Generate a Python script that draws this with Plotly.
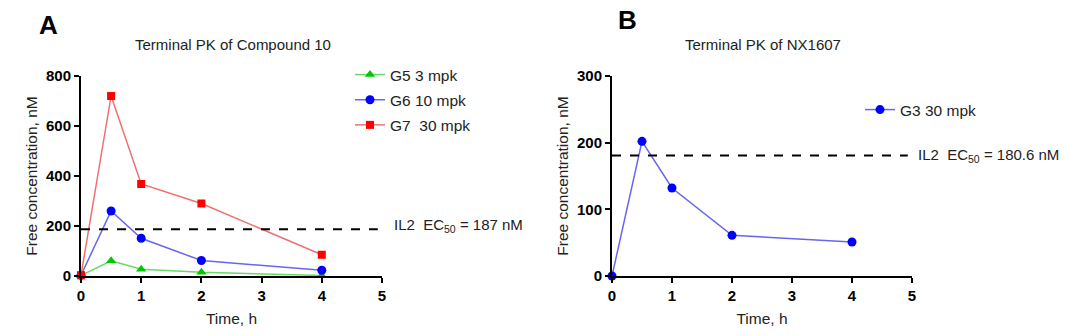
import plotly.graph_objects as go

# ---- data ----
time_a = [0, 0.5, 1, 2, 4]
g5_3mpk = [2, 61, 27, 15, 2]
g6_10mpk = [3, 260, 151, 62, 23]
g7_30mpk = [3, 720, 368, 290, 85]
ec50_a = 187

time_b = [0, 0.5, 1, 2, 4]
g3_30mpk = [0, 202, 132, 61, 51]
ec50_b = 180.6

x_ticks = [0, 1, 2, 3, 4, 5]
y_ticks_a = [0, 200, 400, 600, 800]
y_ticks_b = [0, 100, 200, 300]

W, H = 1080, 336
def px_x(p): return p / W
def px_y(p): return (H - p) / H

FONT = "Liberation Sans, Arial, sans-serif"
TXT = "#222222"

fig = go.Figure()

def add_series(x, y, name, mcol, lcol, symbol, size, xa, ya, legend):
    fig.add_trace(go.Scatter(
        x=x, y=y, name=name, mode="lines+markers",
        line=dict(color=lcol, width=1.5),
        marker=dict(color=mcol, symbol=symbol, size=size, line=dict(width=0)),
        xaxis=xa, yaxis=ya, legend=legend, legendgroup=name, cliponaxis=False))

add_series(time_a, g5_3mpk, "G5 3 mpk", "#00c800", "#66d966", "triangle-up", 9, "x", "y", "legend")
add_series(time_a, g6_10mpk, "G6 10 mpk", "#0000ff", "#6666ee", "circle", 9, "x", "y", "legend")
add_series(time_a, g7_30mpk, "G7  30 mpk", "#ff0000", "#f07070", "square", 8, "x", "y", "legend")
add_series(time_b, g3_30mpk, "G3 30 mpk", "#0000ff", "#6666ee", "circle", 9, "x2", "y2", "legend2")

# EC50 dashed lines
fig.add_shape(type="line", xref="x", yref="y", x0=0, x1=4.93, y0=ec50_a, y1=ec50_a,
              line=dict(color="black", width=2, dash="dash"))
fig.add_shape(type="line", xref="x2", yref="y2", x0=0, x1=4.93, y0=ec50_b, y1=ec50_b,
              line=dict(color="black", width=2, dash="dash"))

axis_common = dict(showline=True, linecolor="black", linewidth=2, ticks="outside",
                   tickwidth=2, ticklen=5, tickcolor="black", showgrid=False, zeroline=False,
                   automargin=False,
                   tickfont=dict(family=FONT, size=15, color="black", weight="bold"),
                   title_font=dict(family=FONT, size=15.5, color=TXT))

fig.update_layout(
    width=W, height=H, margin=dict(l=0, r=0, t=0, b=0, autoexpand=False),
    paper_bgcolor="white", plot_bgcolor="white",
    font=dict(family=FONT, color=TXT),
    xaxis=dict(domain=[px_x(81), px_x(382)], range=[0, 5], tickvals=x_ticks,
               anchor="y", title=dict(text="Time, h", standoff=10), **axis_common),
    yaxis=dict(domain=[px_y(276), px_y(76)], range=[0, 800], tickvals=y_ticks_a,
               anchor="x", title=dict(text="Free concentration, nM", standoff=5), **axis_common),
    xaxis2=dict(domain=[px_x(612), px_x(912)], range=[0, 5], tickvals=x_ticks,
                anchor="y2", title=dict(text="Time, h", standoff=10), **axis_common),
    yaxis2=dict(domain=[px_y(276), px_y(76)], range=[0, 300], tickvals=y_ticks_b,
                anchor="x2", title=dict(text="Free concentration, nM", standoff=5), **axis_common),
    legend=dict(x=px_x(350), y=px_y(58), xanchor="left", yanchor="top",
                font=dict(family=FONT, size=15.5, color=TXT), bgcolor="rgba(0,0,0,0)",
                tracegroupgap=2, itemwidth=30),
    legend2=dict(x=px_x(860), y=px_y(93), xanchor="left", yanchor="top",
                 font=dict(family=FONT, size=15.5, color=TXT), bgcolor="rgba(0,0,0,0)",
                 itemwidth=30),
    showlegend=True,
)

annos = [
    dict(text="<b>A</b>", x=px_x(48), y=px_y(25), font=dict(size=26, color="black")),
    dict(text="<b>B</b>", x=px_x(627), y=px_y(20), font=dict(size=26, color="black")),
    dict(text="Terminal PK of Compound 10", x=px_x(233), y=px_y(45), font=dict(size=15, color=TXT)),
    dict(text="Terminal PK of NX1607", x=px_x(763), y=px_y(45), font=dict(size=15, color=TXT)),
]
for a in annos:
    fig.add_annotation(xref="paper", yref="paper", x=a["x"], y=a["y"], text=a["text"],
                       showarrow=False, xanchor="center", yanchor="middle",
                       font=dict(family=FONT, **a["font"]))

fig.add_annotation(xref="paper", yref="paper", x=px_x(392), y=px_y(225),
                   text="IL2  EC<sub>50</sub> = 187 nM", showarrow=False,
                   xanchor="left", yanchor="middle", font=dict(family=FONT, size=15, color=TXT))
fig.add_annotation(xref="paper", yref="paper", x=px_x(916), y=px_y(155),
                   text="IL2  EC<sub>50</sub> = 180.6 nM", showarrow=False,
                   xanchor="left", yanchor="middle", font=dict(family=FONT, size=15, color=TXT))

fig.write_html("out.html")
